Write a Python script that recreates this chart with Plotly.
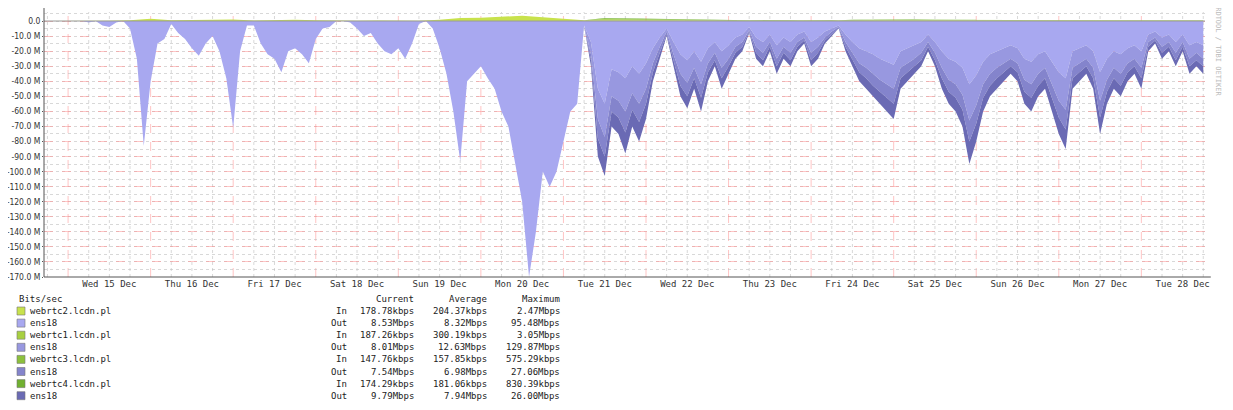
import pandas as pd
import plotly.graph_objects as go

# the page adds an 8px body margin, so the layout is shifted up/left by 8px
OFF = 8
W, H = 1233 - OFF, 410 - OFF
L, R, T, B = 44 - OFF, 1205 - OFF, 12 - OFF, 277 - OFF

# outbound traffic, Mbit/s, 2h steps from Tue 14 Dec 18:00
out_start = "2021-12-14 18:00"
ens18_a = [0, 0, 0, 0, 0, 0, 1, 0, 3, 4, 1, 0, 5, 25, 83, 40, 15, 12, 2, 8,
           12, 18, 23, 15, 10, 20, 38, 71, 20, 3, 3, 15, 22, 25, 34, 20, 18, 22, 28, 12,
           5, 4, 0, 0, 1, 5, 10, 8, 15, 20, 22, 18, 25, 15, 2, 0, 5, 18, 35, 60,
           93, 40, 35, 30, 38, 45, 60, 70, 95, 120, 170, 140, 100, 110, 100, 80, 60, 55, 3, 14,
           45, 55, 32, 34, 38, 30, 35, 28, 18, 11, 5, 14, 22, 26, 20, 27, 18, 14, 20, 16,
           11, 9, 4, 11, 14, 9, 16, 11, 14, 9, 7, 14, 11, 7, 5, 3, 9, 14, 18, 20,
           22, 25, 27, 29, 20, 18, 16, 14, 9, 14, 20, 25, 27, 31, 42, 36, 27, 22, 20, 18,
           16, 18, 25, 27, 22, 20, 27, 34, 38, 20, 18, 16, 20, 34, 25, 20, 22, 18, 16, 20,
           9, 7, 11, 9, 14, 9, 16, 14, 16]
ens18_b = [0] * 79 + [
           8, 20, 22, 18, 19, 22, 18, 20, 17, 10, 6, 2, 8, 13, 15, 11, 15, 10, 7, 11,
           9, 6, 5, 2, 6, 7, 5, 9, 6, 7, 5, 4, 7, 6, 4, 2, 1, 5, 7, 10,
           11, 13, 14, 15, 16, 11, 10, 9, 7, 5, 7, 11, 14, 15, 18, 24, 20, 15, 13, 11,
           10, 9, 10, 14, 15, 13, 11, 15, 19, 21, 11, 10, 9, 11, 19, 14, 11, 13, 10, 9,
           11, 5, 4, 6, 5, 7, 5, 9, 7, 9]
ens18_c = [0] * 79 + [
           4, 13, 13, 10, 11, 14, 11, 12, 10, 6, 4, 2, 4, 8, 9, 7, 9, 6, 5, 7,
           5, 4, 3, 1, 4, 5, 3, 5, 4, 5, 3, 2, 5, 4, 2, 2, 1, 3, 5, 6,
           7, 8, 8, 9, 10, 7, 6, 5, 5, 3, 5, 7, 8, 9, 10, 14, 12, 9, 8, 7,
           6, 5, 6, 8, 9, 8, 7, 9, 11, 13, 7, 6, 5, 7, 11, 8, 7, 8, 6, 5,
           7, 3, 2, 4, 3, 5, 3, 5, 5, 5]
ens18_d = [0] * 79 + [
           4, 12, 13, 10, 11, 14, 11, 13, 10, 6, 4, 1, 4, 7, 8, 7, 9, 6, 4, 7,
           5, 4, 3, 1, 4, 4, 3, 5, 4, 4, 3, 2, 4, 4, 2, 1, 0, 3, 4, 6,
           7, 7, 8, 9, 10, 7, 6, 5, 4, 3, 4, 7, 8, 9, 11, 15, 12, 9, 7, 7,
           6, 5, 6, 8, 9, 7, 7, 9, 11, 13, 7, 6, 5, 7, 11, 8, 7, 7, 6, 5,
           7, 3, 2, 4, 3, 4, 3, 5, 4, 5]

# inbound traffic, Mbit/s, 6h steps
in_start = "2021-12-14 18:00"
webrtc2_in = [0, 0, 0, 0.2, 0.6, 1.5, 0.5, 0.6, 0.8, 1.0, 0.4, 0.8, 0.8, 0.5, 0.2, 0.2, 0.3, 0.3, 0.2, 0.8,
              2.0, 2.2, 2.8, 3.5, 2.5, 1.5, 0.5, 0.6, 0.5, 0.4, 0.3, 0.2, 0.2, 0.2, 0.1, 0.2, 0.1, 0.2, 0.1, 0.2,
              0.3, 0.3, 0.3, 0.2, 0.2, 0.3, 0.2, 0.2, 0.3, 0.2, 0.3, 0.2, 0.3, 0.2, 0.2, 0.2, 0.2]
webrtc1_in = [0] * 27 + [0.6, 0.5, 0.4, 0.3, 0.2, 0.2, 0.2, 0.1, 0.2, 0.2, 0.2, 0.1, 0.2,
                         0.3, 0.3, 0.3, 0.2, 0.2, 0.3, 0.3, 0.2, 0.3, 0.3, 0.3, 0.2, 0.3, 0.2, 0.2, 0.2, 0.2]
webrtc3_in = [0] * 27 + [0.4, 0.4, 0.3, 0.2, 0.2, 0.2, 0.1, 0.1, 0.1, 0.1, 0.1, 0.1, 0.2,
                         0.2, 0.2, 0.2, 0.2, 0.2, 0.2, 0.2, 0.2, 0.2, 0.2, 0.2, 0.2, 0.2, 0.2, 0.1, 0.1, 0.1]
webrtc4_in = [0] * 27 + [0.4, 0.4, 0.4, 0.3, 0.2, 0.2, 0.2, 0.2, 0.2, 0.1, 0.2, 0.1, 0.2,
                         0.2, 0.2, 0.2, 0.2, 0.2, 0.2, 0.2, 0.2, 0.2, 0.2, 0.2, 0.2, 0.2, 0.2, 0.1, 0.1, 0.1]

legend_rows = [
    ("webrtc2.lcdn.pl", "In", "178.78kbps", "204.37kbps", "2.47Mbps", "#c8e24c"),
    ("ens18", "Out", "8.53Mbps", "8.32Mbps", "95.48Mbps", "#a8a8f0"),
    ("webrtc1.lcdn.pl", "In", "187.26kbps", "300.19kbps", "3.05Mbps", "#a8d040"),
    ("ens18", "Out", "8.01Mbps", "12.63Mbps", "129.87Mbps", "#9898e0"),
    ("webrtc3.lcdn.pl", "In", "147.76kbps", "157.85kbps", "575.29kbps", "#8cc03c"),
    ("ens18", "Out", "7.54Mbps", "6.98Mbps", "27.06Mbps", "#8484cc"),
    ("webrtc4.lcdn.pl", "In", "174.29kbps", "181.06kbps", "830.39kbps", "#70b030"),
    ("ens18", "Out", "9.79Mbps", "7.94Mbps", "26.00Mbps", "#6a6ab4"),
]
days = pd.date_range("2021-12-15", "2021-12-28", freq="D")

out_x = pd.date_range(out_start, periods=len(ens18_a), freq="2h")
in_x = pd.date_range(in_start, periods=len(webrtc2_in), freq="6h")
x0, x1 = pd.Timestamp("2021-12-14 17:00"), pd.Timestamp("2021-12-28 18:30")

fig = go.Figure()
out_series = [ens18_a, ens18_b, ens18_c, ens18_d]
in_series = [webrtc2_in, webrtc1_in, webrtc3_in, webrtc4_in]
for k in range(4):
    fig.add_trace(go.Scatter(
        x=in_x, y=in_series[k], stackgroup="in", mode="lines", line=dict(width=0),
        fillcolor=legend_rows[2 * k][5], hoverinfo="skip"))
for k in range(4):
    fig.add_trace(go.Scatter(
        x=out_x, y=[-v for v in out_series[k]], stackgroup="out", mode="lines",
        line=dict(width=0), fillcolor=legend_rows[2 * k + 1][5], hoverinfo="skip"))

mono = "DejaVu Sans Mono"
ticks = list(range(0, -171, -10))
fig.update_yaxes(
    range=[-170, 6], tickvals=ticks,
    ticktext=["0.0"] + [f"{t}.0 M" for t in ticks[1:]],
    showgrid=True, gridcolor="rgba(255,140,140,0.5)", griddash="dash", gridwidth=1,
    minor=dict(dtick=5, showgrid=True, gridcolor="rgba(190,190,190,0.6)", griddash="dot"),
    zeroline=False, showline=False, ticks="outside", ticklen=1, tickcolor="#555",
    tickfont=dict(family="DejaVu Sans Condensed", size=8.5, color="#333"),
)
fig.update_xaxes(
    range=[x0, x1], tickvals=[d + pd.Timedelta(hours=12) for d in days],
    ticktext=[d.strftime("%a %d Dec") for d in days],
    showgrid=False, zeroline=False, showline=False,
    tickfont=dict(family=mono, size=9, color="#333"),
)

shapes = []
for h in pd.date_range("2021-12-14 18:00", "2021-12-28 18:00", freq="6h"):
    red = h.hour == 0
    shapes.append(dict(type="line", xref="x", yref="paper", x0=h, x1=h, y0=0, y1=1, layer="below",
                       line=dict(color="rgba(255,140,140,0.5)" if red else "rgba(190,190,190,0.6)",
                                 width=1, dash="dash" if red else "dot")))
shapes.append(dict(type="line", xref="x", yref="y", x0=x0, x1=x1, y0=0, y1=0,
                   line=dict(color="#999", width=1)))
shapes.append(dict(type="line", xref="paper", yref="paper", x0=0, x1=1.005, y0=0, y1=0,
                   line=dict(color="#555", width=1)))
shapes.append(dict(type="line", xref="paper", yref="paper", x0=0, x1=0, y0=0, y1=1.015,
                   line=dict(color="#555", width=1)))
fig.update_layout(shapes=shapes)


def px(xp, yp):
    # page pixel -> paper coords
    return (xp - OFF - L) / (R - L), (B - (yp - OFF)) / (B - T)


def text(xp, yp, s, anchor="left", size=9, color="#222", **kw):
    x, y = px(xp, yp)
    fig.add_annotation(xref="paper", yref="paper", x=x, y=y, text=s, showarrow=False,
                       xanchor=anchor, yanchor="middle", font=dict(family=mono, size=size, color=color), **kw)


text(17, 299, "Bits/sec")
text(416, 299, "Current", "right")
text(489, 299, "Average", "right")
text(562, 299, "Maximum", "right")
for i, (name, d, cur, avg, mx, col) in enumerate(legend_rows):
    yp = 311 + i * 12.1
    bx, by = px(17, yp - 4)
    bx2, by2 = px(25, yp + 4)
    fig.add_shape(type="rect", xref="paper", yref="paper", x0=bx, x1=bx2, y0=by, y1=by2,
                  fillcolor=col, line=dict(color="#777", width=0.6))
    text(28, yp, name)
    text(349, yp, d, "right")
    text(416, yp, cur, "right")
    text(489, yp, avg, "right")
    text(562, yp, mx, "right")
text(1218, 50, "RRDTOOL / TOBI OETIKER", "center", size=7, color="#bbb", textangle=90)

fig.update_layout(
    width=W, height=H, plot_bgcolor="white", paper_bgcolor="white", showlegend=False,
    margin=dict(l=L, r=W - R, t=T, b=H - B, autoexpand=False),
)
fig.write_html("out.html")
